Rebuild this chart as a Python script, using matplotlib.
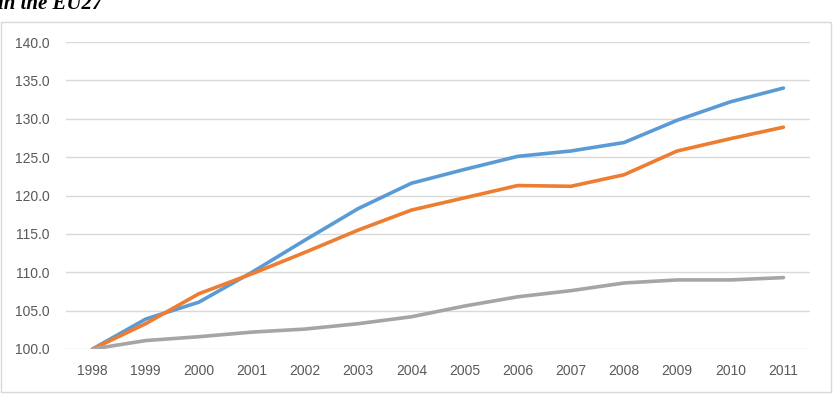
import matplotlib.pyplot as plt
from matplotlib.patches import Rectangle

years = [1998, 1999, 2000, 2001, 2002, 2003, 2004, 2005, 2006, 2007, 2008, 2009, 2010, 2011]
blue = [100.0, 103.9, 106.1, 110.0, 114.2, 118.3, 121.6, 123.4, 125.1, 125.8, 126.9, 129.8, 132.2, 134.0]
orange = [100.0, 103.3, 107.2, 109.8, 112.6, 115.5, 118.1, 119.7, 121.3, 121.2, 122.7, 125.8, 127.4, 128.9]
grey = [100.0, 101.1, 101.6, 102.2, 102.6, 103.3, 104.2, 105.6, 106.8, 107.6, 108.6, 109.0, 109.0, 109.3]
yticks = [100, 105, 110, 115, 120, 125, 130, 135, 140]

plt.rcParams['font.family'] = ['Liberation Sans Narrow', 'Liberation Sans', 'DejaVu Sans']

fig = plt.figure(figsize=(8.34, 4.0), dpi=100)
fig.patches.append(Rectangle((0.5 / 834, 1 - 392 / 400), 830 / 834, 370 / 400,
                             transform=fig.transFigure, fill=False,
                             edgecolor='#D9D9D9', lw=1))
# title is cut off at the top edge in the original
fig.text(-0.002, 1 - 9 / 400, 'in the EU27', family='Liberation Serif',
         style='italic', weight='bold', fontsize=15, color='black',
         va='baseline')

ax = fig.add_axes([66 / 834, 1 - 349 / 400, (810 - 66) / 834, (349 - 42) / 400])
ax.plot(years, blue, color='#5B9BD5', lw=2.6, solid_capstyle='round', zorder=3)
ax.plot(years, orange, color='#ED7D31', lw=2.6, solid_capstyle='round', zorder=3)
ax.plot(years, grey, color='#A5A5A5', lw=2.6, solid_capstyle='round', zorder=3)

ax.set_xlim(1997.5, 2011.5)
ax.set_ylim(100, 140)
ax.set_yticks(yticks)
ax.set_yticklabels(['%.1f' % v for v in yticks])
ax.set_xticks(years)
ax.set_xticklabels([str(y) for y in years])
ax.grid(axis='y', color='#D9D9D9', lw=1)
ax.set_axisbelow(True)
for s in ax.spines.values():
    s.set_visible(False)
ax.tick_params(length=0, labelsize=10, colors='#595959')
ax.tick_params(axis='y', pad=12)
ax.tick_params(axis='x', pad=11)

fig.savefig('out.png', dpi=100)
